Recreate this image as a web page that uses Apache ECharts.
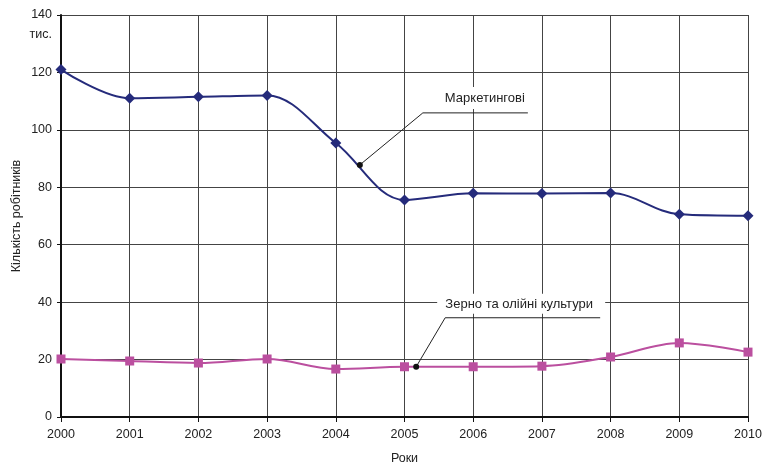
<!DOCTYPE html>
<html>
<head>
<meta charset="utf-8">
<script src="https://cdn.jsdelivr.net/npm/echarts@6/dist/echarts.min.js"></script>
<style>
html,body{margin:0;padding:0;background:#fff;}
#c{width:771px;height:463px;}
</style>
</head>
<body>
<div id="c"></div>
<script>
var years = [2000, 2001, 2002, 2003, 2004, 2005, 2006, 2007, 2008, 2009, 2010];
var marketing = [121, 111, 111.5, 112, 95.4, 75.6, 77.9, 77.8, 78, 70.6, 70.1];
var grain = [20.2, 19.5, 18.8, 20.2, 16.7, 17.5, 17.5, 17.7, 20.9, 25.8, 22.6];
var yTicks = [0, 20, 40, 60, 80, 100, 120, 140];
var seriesNames = ['Маркетингові', 'Зерно та олійні культури'];
var calloutPoints = [[2004.35, 87.8], [2005.17, 17.5]];

var font = 'Liberation Sans, Arial, sans-serif';
var chart = echarts.init(document.getElementById('c'));
function pairs(vals){ return years.map(function(y,i){ return [y, vals[i]]; }); }

chart.setOption({
  animation: false,
  backgroundColor: '#fff',
  grid: {left: 61, right: 23, top: 15, bottom: 46, containLabel: false, outerBoundsMode: 'none'},
  xAxis: {
    type: 'value', min: 2000, max: 2010, interval: 1,
    name: 'Роки', nameLocation: 'middle', nameGap: 35, nameMoveOverlap: false,
    nameTextStyle: {fontFamily: font, fontSize: 12.5, color: '#222'},
    axisLine: {show: true, onZero: false, lineStyle: {color: '#111', width: 2}},
    axisTick: {show: true, length: 5, lineStyle: {color: '#111'}},
    axisLabel: {fontFamily: font, fontSize: 12.5, color: '#222', margin: 11, formatter: function(v){return String(v);}},
    splitLine: {show: true, lineStyle: {color: '#444', width: 1}}
  },
  yAxis: {
    type: 'value', min: 0, max: 140, interval: 20,
    name: 'Кількість робітників', nameLocation: 'middle', nameGap: 38, nameRotate: 90, nameMoveOverlap: false,
    nameTextStyle: {fontFamily: font, fontSize: 12.5, color: '#222'},
    axisLine: {show: true, lineStyle: {color: '#111', width: 2}},
    axisTick: {show: true, length: 4, lineStyle: {color: '#111'}},
    axisLabel: {fontFamily: font, fontSize: 12.5, color: '#222', margin: 9,
      formatter: function(v){ return yTicks.indexOf(v) >= 0 ? String(v) : ''; }},
    splitLine: {show: true, lineStyle: {color: '#444', width: 1}}
  },
  series: [
    {
      name: seriesNames[0], type: 'line', smooth: 0.35, data: pairs(marketing),
      symbol: 'diamond', symbolSize: 11,
      lineStyle: {color: '#252b7b', width: 2},
      itemStyle: {color: '#252b7b'}
    },
    {
      name: seriesNames[1], type: 'line', smooth: 0.35, data: pairs(grain),
      symbol: 'rect', symbolSize: 9,
      lineStyle: {color: '#bb4f9f', width: 2},
      itemStyle: {color: '#bb4f9f'}
    }
  ]
});

function addGraphics(){
  var p1 = chart.convertToPixel({gridIndex: 0}, calloutPoints[0]);
  var p2 = chart.convertToPixel({gridIndex: 0}, calloutPoints[1]);
  var e1 = [p1[0] + 63, p1[1] - 52];
  var e2 = [p2[0] + 29, p2[1] - 49];
  var els = [];
  // Marketing callout
  els.push({type: 'rect', shape: {x: e1[0] + 14, y: e1[1] - 26, width: 96, height: 22}, style: {fill: '#fff'}, z: 50});
  els.push({type: 'polyline', shape: {points: [p1, e1, [e1[0] + 105, e1[1]]]}, style: {stroke: '#222', lineWidth: 1, fill: null}, z: 51});
  els.push({type: 'text', x: e1[0] + 62, y: e1[1] - 14, style: {text: seriesNames[0], font: '13px ' + font, fill: '#222', align: 'center', verticalAlign: 'middle'}, z: 52});
  els.push({type: 'circle', shape: {cx: p1[0], cy: p1[1], r: 3}, style: {fill: '#111'}, z: 53});
  // Grain callout
  els.push({type: 'rect', shape: {x: e2[0] - 8, y: e2[1] - 24, width: 168, height: 20}, style: {fill: '#fff'}, z: 50});
  els.push({type: 'polyline', shape: {points: [p2, e2, [e2[0] + 155, e2[1]]]}, style: {stroke: '#222', lineWidth: 1, fill: null}, z: 51});
  els.push({type: 'text', x: e2[0] + 74, y: e2[1] - 13, style: {text: seriesNames[1], font: '13px ' + font, fill: '#222', align: 'center', verticalAlign: 'middle'}, z: 52});
  els.push({type: 'circle', shape: {cx: p2[0], cy: p2[1], r: 3}, style: {fill: '#111'}, z: 53});
  // "тис." unit label under 140
  var pu = chart.convertToPixel({gridIndex: 0}, [2000, 140]);
  els.push({type: 'text', x: pu[0] - 9, y: pu[1] + 20, style: {text: 'тис.', font: '12.5px ' + font, fill: '#222', align: 'right', verticalAlign: 'middle'}, z: 52});
  chart.setOption({graphic: {elements: els}});
}
addGraphics();
</script>
</body>
</html>
